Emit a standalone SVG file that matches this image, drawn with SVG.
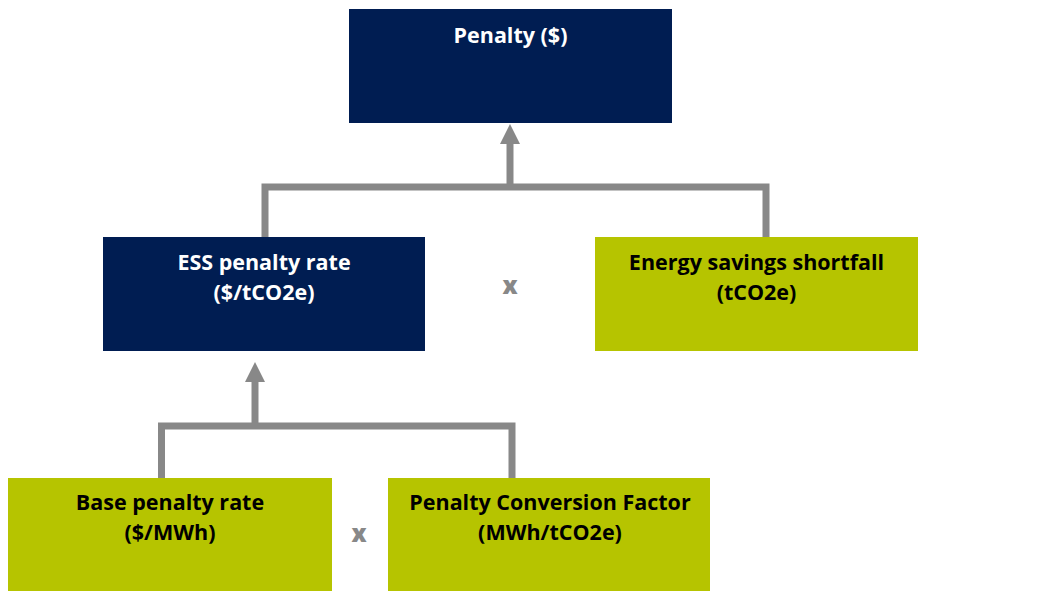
<svg xmlns="http://www.w3.org/2000/svg" width="1059" height="603" viewBox="0 0 1059 603">
  <style>
    .navy { fill: #001D52; }
    .green { fill: #B6C400; }
    .lblw { font-family: "Open Sans", "Liberation Sans", sans-serif; font-weight: 700; font-size: 21.5px; fill: #FFFFFF; text-anchor: middle; }
    .lblk { font-family: "Open Sans", "Liberation Sans", sans-serif; font-weight: 700; font-size: 21.5px; fill: #000000; text-anchor: middle; }
    .op { font-family: "Open Sans", "Liberation Sans", sans-serif; font-weight: 800; font-size: 24px; fill: #888888; text-anchor: middle; }
    .conn { fill: none; stroke: #888888; stroke-width: 7; stroke-linejoin: miter; stroke-linecap: butt; }
  </style>
  <defs>
    <marker id="arrow" markerUnits="userSpaceOnUse" markerWidth="20" markerHeight="20" viewBox="0 0 20 20" refX="0" refY="10" orient="auto">
      <path d="M0,0 L20,10 L0,20 Z" fill="#888888"/>
    </marker>
  </defs>
  <rect width="1059" height="603" fill="#FFFFFF"/>

  <g id="connectors">
    <path class="conn" d="M265,237 V187 H766 V237"/>
    <path class="conn" d="M510,187 V144" marker-end="url(#arrow)"/>
    <path class="conn" d="M161.5,478 V426 H512 V478"/>
    <path class="conn" d="M255,426 V382" marker-end="url(#arrow)"/>
  </g>

  <g id="penalty">
    <rect class="navy" x="349" y="9" width="323" height="114"/>
    <text class="lblw" x="510.5" y="43">Penalty ($)</text>
  </g>

  <g id="ess-penalty-rate">
    <rect class="navy" x="103" y="237" width="322" height="114"/>
    <text class="lblw" x="264" y="270">ESS penalty rate</text>
    <text class="lblw" x="264" y="300">($/tCO2e)</text>
  </g>

  <g id="energy-savings-shortfall">
    <rect class="green" x="595" y="237" width="323" height="114"/>
    <text class="lblk" x="756.5" y="270">Energy savings shortfall</text>
    <text class="lblk" x="756.5" y="300">(tCO2e)</text>
  </g>

  <g id="base-penalty-rate">
    <rect class="green" x="8" y="478" width="324" height="113"/>
    <text class="lblk" x="170" y="510">Base penalty rate</text>
    <text class="lblk" x="170" y="540">($/MWh)</text>
  </g>

  <g id="penalty-conversion-factor">
    <rect class="green" x="388" y="478" width="322" height="113"/>
    <text class="lblk" x="550" y="510">Penalty Conversion Factor</text>
    <text class="lblk" x="550" y="540">(MWh/tCO2e)</text>
  </g>

  <g id="operators">
    <text class="op" x="510" y="294">x</text>
    <text class="op" x="359" y="542">x</text>
  </g>
</svg>
